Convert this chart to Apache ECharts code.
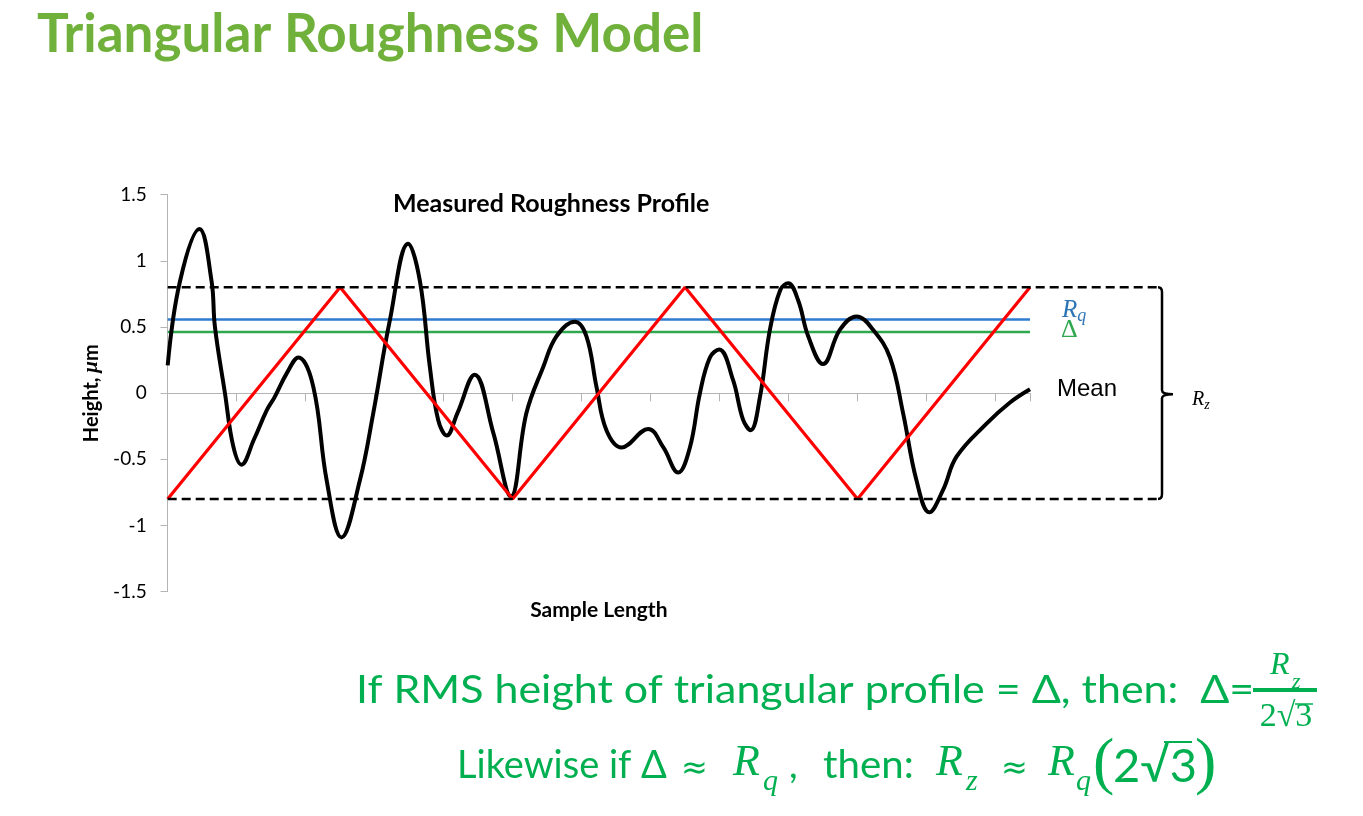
<!DOCTYPE html>
<html><head><meta charset="utf-8">
<script src="https://cdn.jsdelivr.net/npm/echarts@6/dist/echarts.min.js"></script>
<style>html,body{margin:0;padding:0;background:#fff}#c{width:1363px;height:816px}</style>
</head><body><div id="c"></div>
<script>
// ---- data ----
const profile = [
  [0, 0.21], [3.6, 0.85], [9.2, 1.24], [12.7, 0.85], [13.7, 0.5], [16.6, 0.0], [19, -0.4], [21.4, -0.54],
  [25, -0.35], [28.7, -0.13], [31, -0.03], [34.5, 0.15], [37.9, 0.27], [42.2, 0.05], [46.1, -0.66],
  [50.4, -1.09], [55.7, -0.66], [59.6, -0.15], [64.4, 0.55], [69.7, 1.13], [73.1, 0.85], [76, 0.2],
  [78.4, -0.2], [80.9, -0.32], [84, -0.15], [89, 0.14], [94.4, -0.3], [99.5, -0.78], [104, -0.15],
  [108.9, 0.2], [112.7, 0.43], [118, 0.54], [121.4, 0.43], [124.3, 0.05], [127.2, -0.28], [131.6, -0.41],
  [139.3, -0.27], [143.7, -0.41], [148, -0.6], [151.4, -0.41], [154.3, 0.0], [157.2, 0.27], [159.9, 0.33],
  [163.9, 0.1], [166.8, -0.2], [169, -0.28], [171.7, -0.03], [174.6, 0.48], [177.6, 0.78], [179.9, 0.83],
  [182.8, 0.7], [185.7, 0.43], [190, 0.22], [194.9, 0.48], [199.7, 0.58], [204.5, 0.48], [209.4, 0.27],
  [213.2, -0.15], [217.1, -0.66], [220.8, -0.9], [224.8, -0.73], [228.7, -0.48], [237.4, -0.23],
  [244.2, -0.07], [250, 0.03]
];
const triangle = [[0, -0.8], [50, 0.8], [100, -0.8], [150, 0.8], [200, -0.8], [250, 0.8]];
const sampleRange = [0, 250];
const rqLevel = 0.557;
const deltaLevel = 0.462;
const rzBand = [0.8, -0.8];
const yTicks = { min: -1.5, max: 1.5, interval: 0.5 };
const xTickStep = 20;

// ---- styles ----
const SANS = 'Lato';
const SERIF = '"Liberation Serif"';
const GREEN = '#00b050';
const AXIS_GRAY = '#b4b4b4';

const chart = echarts.init(document.getElementById('c'), null, { renderer: 'canvas' });
const flat = v => sampleRange.map(x => [x, v]);

// text piece helper: baseline-positioned
function piece(text, x, baseline, font, size, opts) {
  opts = opts || {};
  const family = font === 'sans' ? SANS : (font === 'math' ? '"DejaVu Sans"' : SERIF);
  return {
    type: 'text', x: x, y: baseline - 0.33 * size, scaleX: opts.sx || 1,
    style: { text: text, verticalAlign: 'middle', fontFamily: family, fontSize: size,
      fontStyle: opts.italic ? 'italic' : 'normal', fill: opts.fill || GREEN, align: opts.align || 'left' }
  };
}

const option = {
  backgroundColor: '#ffffff',
  animation: false,
  title: [
    { text: 'Triangular Roughness Model', left: 37, top: 8, padding: 0,
      textStyle: { fontFamily: SANS, fontWeight: 'bold', fontSize: 53, color: '#70b13c' } },
    { text: 'Measured Roughness Profile', left: 393, top: 191, padding: 0,
      textStyle: { fontFamily: SANS, fontWeight: 'bold', fontSize: 25, color: '#000' } }
  ],
  grid: [
    { left: 167.7, right: 1363 - 1030, top: 194.7, bottom: 816 - 591.7 },
    { left: 167.7, right: 1363 - 1158, top: 194.7, bottom: 816 - 591.7 }
  ],
  xAxis: [
    { type: 'value', gridIndex: 0, min: sampleRange[0], max: sampleRange[1], interval: xTickStep,
      axisLine: { onZero: true, lineStyle: { color: AXIS_GRAY, width: 1 } },
      axisTick: { show: true, inside: false, length: 8, lineStyle: { color: AXIS_GRAY } },
      axisLabel: { show: false }, splitLine: { show: false } },
    { type: 'value', gridIndex: 0, min: sampleRange[0], max: sampleRange[1], interval: xTickStep,
      axisLine: { show: false, onZero: true },
      axisTick: { show: true, inside: true, length: 8, lineStyle: { color: AXIS_GRAY } },
      axisLabel: { show: false }, splitLine: { show: false } },
    { type: 'value', gridIndex: 0, min: sampleRange[0], max: sampleRange[1], position: 'bottom',
      axisLine: { show: false, onZero: false }, axisTick: { show: false }, axisLabel: { show: false },
      splitLine: { show: false },
      name: 'Sample Length', nameLocation: 'middle', nameGap: 8,
      nameTextStyle: { fontFamily: SANS, fontWeight: 'bold', fontSize: 21, color: '#000' } },
    { type: 'value', gridIndex: 1, min: 0, max: 1, show: false }
  ],
  yAxis: [
    { type: 'value', gridIndex: 0, min: yTicks.min, max: yTicks.max, interval: yTicks.interval,
      axisLine: { show: true, lineStyle: { color: AXIS_GRAY, width: 1 } },
      axisTick: { show: true, inside: false, length: 7, lineStyle: { color: AXIS_GRAY } },
      axisLabel: { margin: 21, fontFamily: SANS, fontSize: 19, color: '#000' },
      splitLine: { show: false },
      name: '{b|Height, }{m|μ}{b|m}', nameLocation: 'middle', nameRotate: 90, nameGap: 64,
      nameTextStyle: { rich: {
        b: { fontFamily: SANS, fontWeight: 'bold', fontSize: 20, color: '#000' },
        m: { fontFamily: SERIF, fontStyle: 'italic', fontWeight: 'bold', fontSize: 21, color: '#000' } } } },
    { type: 'value', gridIndex: 0, min: yTicks.min, max: yTicks.max, interval: yTicks.interval,
      axisLine: { show: false }, axisLabel: { show: false }, splitLine: { show: false },
      axisTick: { show: true, inside: true, length: 7, lineStyle: { color: AXIS_GRAY } } },
    { type: 'value', gridIndex: 1, min: yTicks.min, max: yTicks.max, show: false }
  ],
  series: [
    { name: 'Rq', type: 'line', xAxisIndex: 0, yAxisIndex: 0, data: flat(rqLevel), symbol: 'none',
      lineStyle: { color: '#2e7bd0', width: 2.5 }, z: 2 },
    { name: 'Delta', type: 'line', xAxisIndex: 0, yAxisIndex: 0, data: flat(deltaLevel), symbol: 'none',
      lineStyle: { color: '#2fa84f', width: 2.5 }, z: 2 },
    { name: 'Profile', type: 'line', xAxisIndex: 0, yAxisIndex: 0, data: profile, symbol: 'none',
      smooth: 0.4, lineStyle: { color: '#000', width: 4 }, z: 3 },
    { name: 'Triangle', type: 'line', xAxisIndex: 0, yAxisIndex: 0, data: triangle, symbol: 'none',
      lineStyle: { color: '#ff0000', width: 3.2 }, z: 4 },
    { name: 'Peak', type: 'line', xAxisIndex: 3, yAxisIndex: 2, data: [[0, rzBand[0]], [1, rzBand[0]]],
      symbol: 'none', lineStyle: { color: '#000', width: 2.5, type: [9, 5] }, z: 5 },
    { name: 'Valley', type: 'line', xAxisIndex: 3, yAxisIndex: 2, data: [[0, rzBand[1]], [1, rzBand[1]]],
      symbol: 'none', lineStyle: { color: '#000', width: 2.5, type: [9, 5] }, z: 5 },
    { name: 'Brace', type: 'custom', xAxisIndex: 3, yAxisIndex: 2, data: [[1, rzBand[0], rzBand[1]]],
      renderItem: function (params, api) {
        const top = api.coord([api.value(0), api.value(1)]);
        const bot = api.coord([api.value(0), api.value(2)]);
        const x0 = top[0], x1 = top[0] + 4, t = top[1], b = bot[1], m = (t + b) / 2 + 1;
        const d = 'M' + x0 + ',' + t + ' Q' + x1 + ',' + t + ' ' + x1 + ',' + (t + 5) +
          ' L' + x1 + ',' + (m - 4) + ' Q' + x1 + ',' + m + ' ' + (x1 + 11) + ',' + m +
          ' Q' + x1 + ',' + m + ' ' + x1 + ',' + (m + 4) +
          ' L' + x1 + ',' + (b - 5) + ' Q' + x1 + ',' + b + ' ' + x0 + ',' + b;
        return { type: 'path', shape: { pathData: d },
          style: { fill: 'none', stroke: '#000', lineWidth: 2.5 } };
      }, z: 5 }
  ],
  graphic: [
    { type: 'text', x: 1062, y: 310, style: { text: '{R|R}{q|q}', verticalAlign: 'middle',
      rich: { R: { fontFamily: SERIF, fontStyle: 'italic', fontSize: 25, fill: '#2e75b6', lineHeight: 30 },
              q: { fontFamily: SERIF, fontStyle: 'italic', fontSize: 18, fill: '#2e75b6', lineHeight: 14, verticalAlign: 'bottom' } } } },
    { type: 'text', x: 1061, y: 330, style: { text: 'Δ', verticalAlign: 'middle',
      fontFamily: SERIF, fontSize: 26, fill: '#2fa84f' } },
    { type: 'text', x: 1057, y: 389, style: { text: 'Mean', verticalAlign: 'middle',
      fontFamily: '"Liberation Sans"', fontSize: 24, fill: '#000' } },
    { type: 'text', x: 1192, y: 400, style: { text: '{R|R}{z|z}', verticalAlign: 'middle',
      rich: { R: { fontFamily: SERIF, fontStyle: 'italic', fontSize: 20, fill: '#000', lineHeight: 24 },
              z: { fontFamily: SERIF, fontStyle: 'italic', fontSize: 14, fill: '#000', lineHeight: 12, verticalAlign: 'bottom' } } } },
    // formula line 1
    piece('If RMS height of triangular profile = Δ, then:  Δ=', 356, 703, 'sans', 38, { sx: 1.13 }),
    piece('R', 1270, 676, 'serif', 32, { italic: true }),
    piece('z', 1292, 689, 'serif', 22, { italic: true }),
    { type: 'line', shape: { x1: 1253, y1: 690, x2: 1317, y2: 690 }, style: { stroke: GREEN, lineWidth: 4 } },
    piece('2√3', 1286, 728, 'serif', 34, { align: 'center' }),
    { type: 'line', shape: { x1: 1295, y1: 704, x2: 1313, y2: 704 }, style: { stroke: GREEN, lineWidth: 1.5 } },
    // formula line 2
    piece('Likewise if Δ', 457, 778, 'sans', 38),
    piece('≈', 681, 780, 'math', 32),
    piece('R', 733, 778, 'serif', 44, { italic: true }),
    piece('q', 763, 792, 'serif', 30, { italic: true }),
    piece(',', 789, 778, 'sans', 38),
    piece('then:', 823, 778, 'sans', 38, { sx: 1.06 }),
    piece('R', 936, 778, 'serif', 44, { italic: true }),
    piece('z', 966, 792, 'serif', 30, { italic: true }),
    piece('≈', 1001, 780, 'math', 32),
    piece('R', 1048, 778, 'serif', 44, { italic: true }),
    piece('q', 1076, 792, 'serif', 30, { italic: true }),
    piece('(', 1093, 786, 'serif', 64),
    { type: 'text', x: 1113, y: 782 - 0.33 * 47, style: { text: '2√3', verticalAlign: 'middle',
      fontFamily: SANS, fontSize: 47, fill: GREEN } },
    { type: 'line', shape: { x1: 1164, y1: 742, x2: 1192, y2: 742 }, style: { stroke: GREEN, lineWidth: 2 } },
    piece(')', 1195, 786, 'serif', 64)
  ]
};
chart.setOption(option);
</script></body></html>
